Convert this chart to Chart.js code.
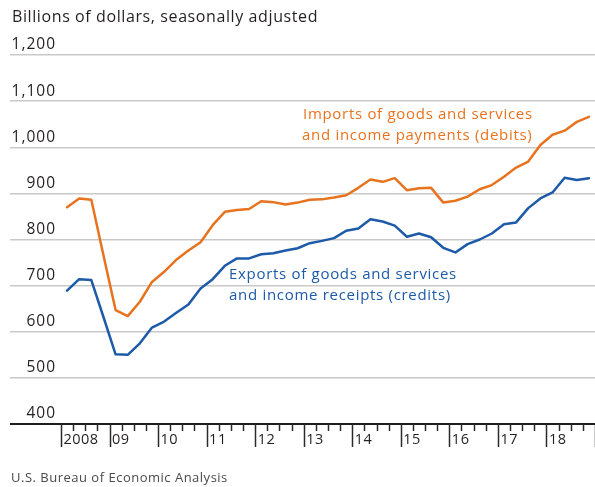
<!DOCTYPE html>
<html>
<head>
<meta charset="utf-8">
<script src="https://cdn.jsdelivr.net/npm/chart.js@4/dist/chart.umd.min.js"></script>
<style>
  html, body { margin: 0; padding: 0; background: #fff; }
  #wrap { width: 595px; height: 487px; position: relative; }
</style>
</head>
<body>
<div id="wrap"><canvas id="chart" width="595" height="487"></canvas></div>
<script>
// --- DATA (quarterly, 2008Q1 .. 2018Q4) ---
const yearLabels = ['2008', '09', '10', '11', '12', '13', '14', '15', '16', '17', '18'];
const importsDebits = [870, 889, 886, 766, 647, 634, 665, 708, 730, 756, 776, 794,
  831, 860, 864, 866, 883, 881, 876, 880, 886, 887, 891, 896, 912, 930, 925, 933,
  907, 911, 912, 880, 884, 893, 909, 918, 936, 956, 969, 1005, 1027, 1036, 1055, 1066];
const exportsCredits = [689, 714, 712, 632, 551, 550, 575, 609, 622, 641, 659, 694,
  714, 743, 759, 759, 768, 770, 776, 781, 792, 797, 803, 819, 824, 844, 839, 830,
  806, 813, 805, 782, 772, 790, 800, 813, 833, 837, 868, 889, 902, 934, 929, 933];
const yTickValues = [400, 500, 600, 700, 800, 900, 1000, 1100, 1200];
const yTickLabels = ['400', '500', '600', '700', '800', '900', '1,000', '1,100', '1,200'];

const FONT = '"Open Sans", "DejaVu Sans", sans-serif';
const TEXT = '#231f20';
const ORANGE = '#e8731f';
const BLUE = '#1d5aa8';

// each quarter sits in the middle of its slot on the x scale
const toPoints = arr => arr.map((v, i) => ({ x: i + 0.5, y: v }));

function setFont(ctx, size, spacing) {
  ctx.font = `${size}px ${FONT}`;
  ctx.letterSpacing = spacing + 'px';
}

// --- DECORATION PLUGIN (labels, ticks, notes) ---
const decorations = {
  id: 'decorations',
  afterDraw(chart) {
    const { ctx, scales: { x, y } } = chart;
    const base = y.getPixelForValue(400);
    ctx.save();

    // title
    ctx.fillStyle = TEXT;
    setFont(ctx, 16, 0.6);
    ctx.textBaseline = 'middle';
    ctx.textAlign = 'left';
    ctx.fillText('Billions of dollars, seasonally adjusted', 12, 17);

    // y labels sit just above their gridline
    setFont(ctx, 15.5, 1);
    ctx.textAlign = 'right';
    yTickValues.forEach((v, i) => {
      ctx.fillText(yTickLabels[i], 56, y.getPixelForValue(v) - 10);
    });

    // x ticks: long ones at year starts, short ones each quarter
    ctx.strokeStyle = '#2a2a2a';
    ctx.lineWidth = 1.5;
    const nQuarters = importsDebits.length;
    for (let q = 0; q <= nQuarters; q++) {
      const px = Math.round(x.getPixelForValue(q)) + 0.5;
      const len = q % 4 === 0 ? 23 : 7;
      ctx.beginPath();
      ctx.moveTo(px, base);
      ctx.lineTo(px, base + len);
      ctx.stroke();
    }
    setFont(ctx, 14.5, 0.5);
    ctx.textAlign = 'left';
    yearLabels.forEach((lab, i) => {
      ctx.fillText(lab, x.getPixelForValue(i * 4) + 2.5, base + 16);
    });

    // series notes
    setFont(ctx, 15, 0.7);
    ctx.fillStyle = ORANGE;
    ctx.fillText('Imports of goods and services', 303, 115);
    ctx.fillText('and income payments (debits)', 302, 136);
    ctx.fillStyle = BLUE;
    ctx.fillText('Exports of goods and services', 229, 275);
    ctx.fillText('and income receipts (credits)', 229, 296);

    // source
    ctx.fillStyle = '#4a4a4a';
    setFont(ctx, 13, 0.5);
    ctx.fillText('U.S. Bureau of Economic Analysis', 11, 478);

    ctx.restore();
  }
};

new Chart(document.getElementById('chart'), {
  type: 'line',
  data: {
    datasets: [
      { label: 'Imports', data: toPoints(importsDebits), borderColor: ORANGE, borderWidth: 2.5 },
      { label: 'Exports', data: toPoints(exportsCredits), borderColor: BLUE, borderWidth: 2.5 }
    ]
  },
  options: {
    responsive: false,
    animation: false,
    devicePixelRatio: 1,
    layout: { padding: { left: 10, right: 0, top: 55, bottom: 63 } },
    elements: {
      point: { radius: 0 },
      line: { tension: 0, borderJoinStyle: 'round', borderCapStyle: 'round' }
    },
    plugins: { legend: { display: false }, tooltip: { enabled: false } },
    scales: {
      x: { type: 'linear', min: -4.2, max: 44, display: false },
      y: {
        min: 400, max: 1200,
        afterFit: s => { s.width = 0; },
        afterBuildTicks: s => { s.ticks = yTickValues.map(v => ({ value: v })); },
        ticks: { display: false },
        border: { display: false },
        grid: {
          drawTicks: false,
          color: c => c.tick && c.tick.value === 400 ? '#1e1e1e' : '#c9c9c9',
          lineWidth: c => c.tick && c.tick.value === 400 ? 2 : 1.5
        }
      }
    }
  },
  plugins: [decorations]
});
</script>
</body>
</html>
